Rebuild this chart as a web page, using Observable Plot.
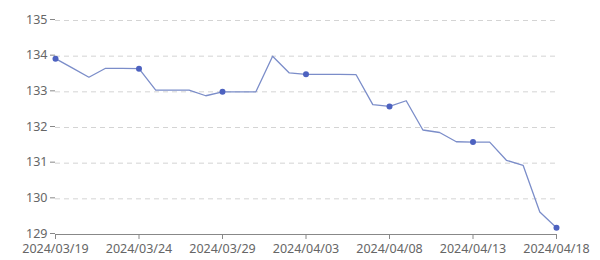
<!DOCTYPE html>
<html>
<head>
<meta charset="utf-8">
<script src="https://cdn.jsdelivr.net/npm/d3@7"></script>
<script src="https://cdn.jsdelivr.net/npm/@observablehq/plot@0.6"></script>
<style>
  html, body { margin: 0; padding: 0; background: #fff; }
  #chart { width: 600px; height: 260px; }
</style>
</head>
<body>
<div id="chart"></div>
<script>
const dates = [
  "2024-03-19","2024-03-20","2024-03-21","2024-03-22","2024-03-23","2024-03-24",
  "2024-03-25","2024-03-26","2024-03-27","2024-03-28","2024-03-29","2024-03-30",
  "2024-03-31","2024-04-01","2024-04-02","2024-04-03","2024-04-04","2024-04-05",
  "2024-04-06","2024-04-07","2024-04-08","2024-04-09","2024-04-10","2024-04-11",
  "2024-04-12","2024-04-13","2024-04-14","2024-04-15","2024-04-16","2024-04-17",
  "2024-04-18"
];
const values = [
  133.93, 133.67, 133.41, 133.66, 133.66, 133.65,
  133.05, 133.05, 133.05, 132.89, 133.00, 133.00,
  133.00, 134.00, 133.53, 133.49, 133.49, 133.49,
  133.48, 132.64, 132.59, 132.75, 131.93, 131.86,
  131.60, 131.59, 131.59, 131.08, 130.94, 129.63,
  129.19
];
const xTicks = ["2024-03-19","2024-03-24","2024-03-29","2024-04-03","2024-04-08","2024-04-13","2024-04-18"];
const yTicks = [129, 130, 131, 132, 133, 134, 135];

const parse = d3.utcParse("%Y-%m-%d");
const data = dates.map((d, i) => ({date: parse(d), value: values[i]}));
const markerDates = new Set(xTicks);
const markers = data.filter((d, i) => markerDates.has(dates[i]));
const fmt = d3.utcFormat("%Y/%m/%d");

const chart = Plot.plot({
  width: 600,
  height: 260,
  marginLeft: 55,
  marginRight: 44,
  marginTop: 20,
  marginBottom: 26,
  style: {fontFamily: "'Noto Sans', 'Open Sans', sans-serif", fontSize: "12px", color: "#666", background: "#fff"},
  x: {type: "utc", domain: [parse(dates[0]), parse(dates[dates.length - 1])], label: null},
  y: {domain: [129, 135], label: null},
  marks: [
    Plot.gridY(yTicks.filter(v => v > 129), {stroke: "#d4d4d4", strokeOpacity: 1, strokeDasharray: "5,4", x1: parse(dates[0]), x2: parse(dates[dates.length - 1])}),
    Plot.axisY(yTicks, {tickSize: 5, tickPadding: 3, stroke: "#888", fill: "#666", fontSize: 12.5, label: null, dy: -1}),
    Plot.axisX(xTicks.map(parse), {tickSize: 5, tickPadding: 5, tickFormat: fmt, stroke: "#888", fill: "#666", fontSize: 12.5, label: null}),
    Plot.ruleY([129], {stroke: "#888", strokeWidth: 1}),
    Plot.line(data, {x: "date", y: "value", stroke: "#7b8dc9", strokeWidth: 1.3}),
    Plot.dot(markers, {x: "date", y: "value", r: 3, fill: "#4d62c0", stroke: "none"})
  ]
});
document.getElementById("chart").appendChild(chart);
</script>
</body>
</html>
